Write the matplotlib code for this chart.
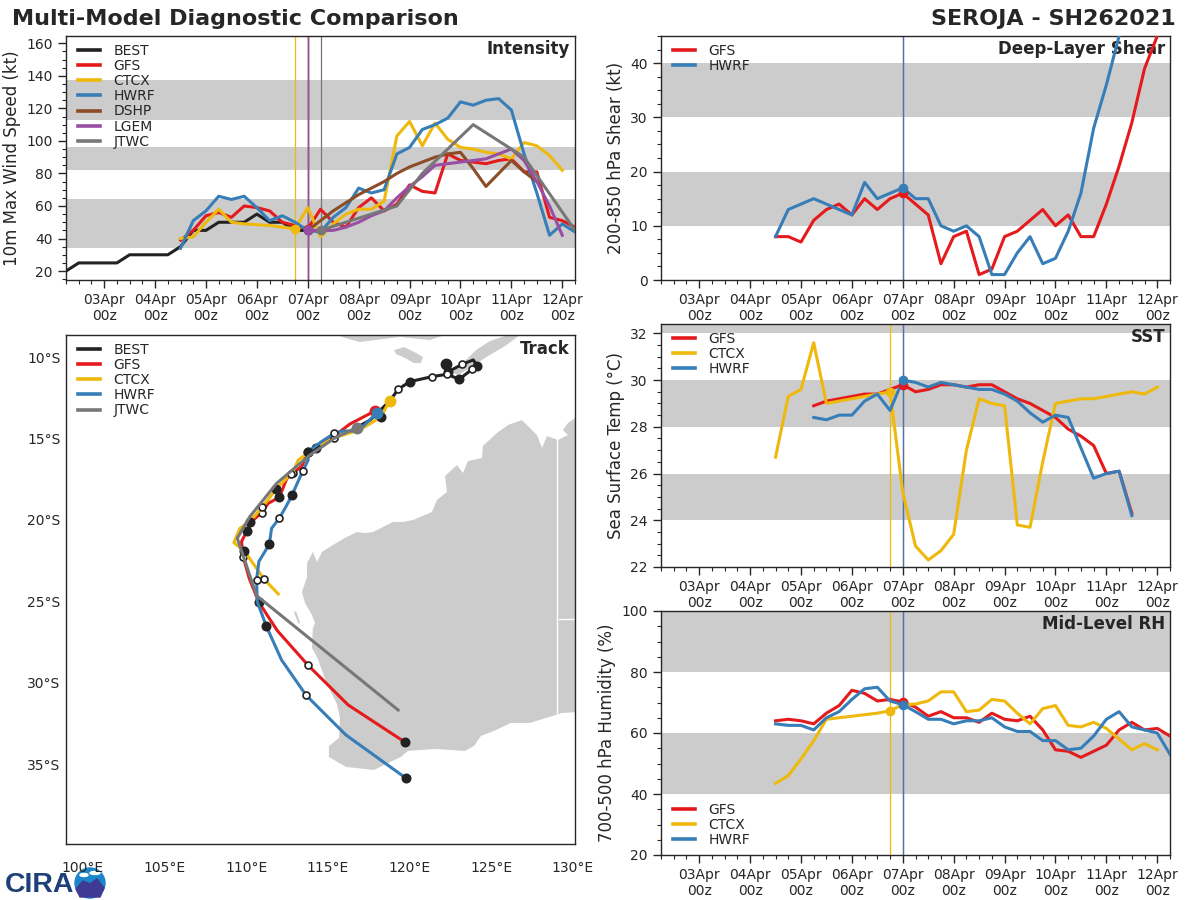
import pandas as pd
import matplotlib
matplotlib.use('Agg')
import matplotlib.pyplot as plt
import matplotlib.dates as mdates
from matplotlib.patches import Circle, Ellipse, Polygon
from matplotlib.ticker import MultipleLocator

# model colors
COLORS = {'BEST': '#222222', 'GFS': '#e41a1c', 'CTCX': '#eeb90c', 'HWRF': '#377eb8',
          'DSHP': '#8c4c26', 'LGEM': '#984ea3', 'JTWC': '#777777'}
BAND_GRAY = '#cccccc'
TEXT_COLOR = '#262626'

# intensity (kt), 6-hourly
best_start = '2021-04-02 06:00'
best_vmax = [20, 25, 25, 25, 25, 30, 30, 30, 30, 35, 45, 45, 50, 50, 50, 55, 50, 50, 45, 45]
gfs_vmax = [39, 45, 54, 56, 53, 60, 59, 57, 50, 48, 46, 58, 50, 47, 59, 65, 57, 61, 73, 69,
            68, 92, 88, 87, 86, 88, 89, 81, 81, 53, 51, 47]
ctcx_vmax = [40, 41, 50, 58, 50, 49, 48.5, 48, 47, 46, 59, 41, 49, 55, 58, 58, 63, 103, 112,
             97, 111, 101, 96, 95, 93, 92, 89, 99, 97, 91, 82]
hwrf_vmax = [34, 51, 57, 66, 64, 66, 59, 51, 54, 50, 45, 44, 53, 59, 71, 68, 70, 92, 96, 107,
             110, 114, 124, 122, 125, 126, 119, 92, 68, 42, 49, 44]
dshp_start = '2021-04-07 00:00'
dshp_vmax = [45, 51, 57, 62, 67, 71, 75, 80, 84, 87, 90, 92, 93, 83, 72, 80, 88, 81, 75]
lgem_vmax = [45, 45, 45, 47, 50, 54, 57, 65, 72, 78, 85, 86, 87, 88, 89, 92, 95, 88, 75, 60, 42]
jtwc_times = ['2021-04-07 06:00', '2021-04-07 18:00', '2021-04-08 06:00', '2021-04-08 18:00',
              '2021-04-09 06:00', '2021-04-10 06:00', '2021-04-11 06:00', '2021-04-12 06:00']
jtwc_vmax = [45, 50, 55, 60, 80, 110, 90, 45]

# deep-layer shear (kt)
gfs_shear = [8, 8, 7, 11, 13, 14, 12, 15, 13, 15, 16, 14, 12, 3, 8, 9, 1, 2, 8, 9, 11, 13, 10,
             12, 8, 8, 14, 21, 29, 39, 45, 52]
hwrf_shear = [8, 13, 14, 15, 14, 13, 12, 18, 15, 16, 17, 15, 15, 10, 9, 10, 8, 1, 1, 5, 8, 3,
              4, 9, 16, 28, 36, 45, 52]

# SST (C)
gfs_sst = [28.9, 29.1, 29.2, 29.3, 29.4, 29.4, 29.6, 29.8, 29.5, 29.6, 29.8, 29.8, 29.7, 29.8,
           29.8, 29.5, 29.2, 29.0, 28.7, 28.4, 27.9, 27.6, 27.2, 26.0, 26.1, 24.3]
ctcx_sst = [26.7, 29.3, 29.6, 31.6, 29.0, 29.1, 29.2, 29.3, 29.4, 29.5, 25.2, 22.9, 22.3, 22.7,
            23.4, 27.0, 29.2, 29.0, 28.9, 23.8, 23.7, 26.5, 29.0, 29.1, 29.2, 29.2, 29.3, 29.4,
            29.5, 29.4, 29.7]
hwrf_sst = [28.4, 28.3, 28.5, 28.5, 29.1, 29.4, 28.7, 30.0, 29.9, 29.7, 29.9, 29.8, 29.7, 29.6,
            29.6, 29.4, 29.1, 28.6, 28.2, 28.5, 28.4, 27.1, 25.8, 26.0, 26.1, 24.2]

# mid-level RH (%)
gfs_rh = [64, 64.5, 64, 63, 66.5, 69, 74, 73, 70.5, 71, 70.2, 68.5, 65.5, 67, 65, 65, 63.5, 66.5,
          64.5, 64, 65.5, 61, 54.5, 54, 52, 54, 56, 61, 63.5, 61, 61.5, 59]
ctcx_rh = [43.5, 46, 51.5, 57.5, 64.5, 65, 65.5, 66, 66.5, 67.3, 69.3, 69.5, 70.5, 73.5, 73.5,
           67, 67.5, 71, 70.5, 66.5, 63, 68, 69, 62.5, 62, 63.5, 61.5, 58, 54.5, 56.5, 54.5]
hwrf_rh = [63, 62.5, 62.5, 61, 65, 67, 71, 74.5, 75, 70.5, 69.3, 67, 64.5, 64.5, 63, 64, 64, 65,
           62, 60.5, 60.5, 57.5, 57.5, 54.5, 55, 59, 64.5, 67, 62, 61, 60, 53]

model_start = '2021-04-04 12:00'
sst_start = '2021-04-05 06:00'
ctcx_init = '2021-04-06 18:00'
other_init = '2021-04-07 00:00'
jtwc_init = '2021-04-07 06:00'

# tracks
best_lon = [122.26, 122.37, 123.22, 123.9, 124.14, 123.83, 123.04, 122.3, 121.4, 120.02, 119.3,
            118.8, 118.22, 117.6, 116.75]
best_lat = [-10.45, -10.9, -10.45, -10.18, -10.55, -10.75, -11.37, -11.06, -11.2, -11.51, -11.98,
            -12.68, -13.25, -13.86, -14.33]
best_filled = [0, 1, 4, 6, 9]
best_open = [2, 5, 7, 8, 10]
gfs_lon = [117.88, 116.35, 115.39, 114.51, 113.79, 113.39, 112.88, 112.47, 112.02, 111.35, 110.94,
           110.43, 110.02, 109.71, 109.81, 110.18, 110.77, 111.9, 113.79, 116.24, 119.73]
gfs_lat = [-13.31, -14.11, -14.84, -15.4, -15.8, -16.72, -17.09, -17.48, -18.61, -18.97, -19.55,
           -20.0, -20.69, -21.33, -22.25, -23.58, -25.05, -26.79, -28.92, -31.35, -33.64]
gfs_filled = [4, 8, 12, 16, 20]
gfs_open = [2, 6, 10, 14, 18]
ctcx_lon = [118.79, 118.22, 116.96, 115.39, 114.26, 113.18, 112.88, 112.73, 111.81, 110.98, 110.22,
            109.61, 109.24, 109.88, 111.1, 111.96]
ctcx_lat = [-12.68, -13.7, -14.47, -14.95, -15.56, -16.32, -17.03, -17.17, -18.12, -19.22, -20.1,
            -20.51, -21.39, -21.9, -23.64, -24.54]
ctcx_filled = [1, 4, 8, 10, 13]
ctcx_open = [3, 7, 9, 14]
hwrf_lon = [118.02, 116.86, 115.94, 115.39, 114.61, 113.79, 113.79, 113.45, 113.12, 112.81, 112.43,
            112.02, 111.55, 111.41, 110.77, 110.63, 110.67, 111.22, 112.16, 113.67, 116.1, 119.79]
hwrf_lat = [-13.41, -14.54, -14.54, -14.68, -15.19, -15.8, -16.32, -17.01, -17.75, -18.46, -19.18,
            -19.9, -20.51, -21.49, -22.55, -23.68, -25.01, -26.5, -28.59, -30.76, -33.19, -35.85]
hwrf_filled = [5, 9, 13, 17, 21]
hwrf_open = [3, 7, 11, 15, 19]
jtwc_lon = [116.75, 115.39, 113.9, 111.86, 110.22, 109.45, 110.63, 119.3]
jtwc_lat = [-14.33, -14.99, -16.01, -17.75, -19.79, -21.12, -24.64, -31.66]

# land outlines (lon, lat)
aus_lon = [130.4, 129.7, 129.39, 129.7, 129.09, 128.41, 128.11, 127.8, 126.88, 126.03, 125.35,
           124.49, 124.43, 123.58, 123.27, 122.9, 122.17, 122.29, 121.68, 121.37, 120.21, 119.6,
           118.98, 117.76, 117.27, 116.78, 116.04, 115.31, 114.64, 114.33, 114.08, 113.72, 113.72,
           113.41, 113.59, 114.02, 114.21, 114.08, 114.02, 114.33, 114.94, 115.55, 115.74, 115.68,
           115.06, 115.06, 116.11, 117.82, 118.68, 119.47, 119.9, 121.56, 123.39, 123.94, 124.37,
           125.17, 126.21, 127.37, 128.78, 129.33, 130.4]
aus_lat = [-13.56, -14.05, -14.48, -14.79, -15.09, -14.85, -15.58, -14.79, -13.87, -14.17, -14.66,
           -15.46, -16.2, -16.38, -17.12, -16.63, -17.3, -18.28, -18.77, -19.51, -20.0, -20.12,
           -20.12, -20.74, -20.8, -20.74, -21.1, -21.53, -21.96, -22.58, -21.96, -22.64, -23.5,
           -24.42, -25.09, -25.83, -26.32, -26.63, -27.85, -28.4, -30.06, -31.29, -32.15, -33.37,
           -33.87, -34.54, -35.15, -35.34, -34.91, -34.54, -34.17, -34.05, -34.17, -33.87, -33.25,
           -32.94, -32.45, -32.45, -32.02, -31.84, -31.78]
timor_lon = [122.6, 123.58, 124.07, 124.92, 125.84, 126.76, 125.84, 124.8, 123.7, 122.96]
timor_lat = [-10.92, -10.06, -9.57, -9.02, -8.71, -8.65, -9.33, -9.94, -10.67, -11.1]
sumba_lon = [119.05, 119.66, 120.39, 120.82, 120.7, 120.27, 119.6, 119.17]
sumba_lat = [-9.57, -9.39, -9.75, -10.0, -10.37, -10.37, -10.0, -9.82]
flores_lon = [115.55, 116.04, 116.96, 117.88, 119.41, 121.25, 122.17, 122.17, 115.55]
flores_lat = [-8.65, -8.83, -9.08, -8.96, -8.77, -8.96, -8.65, -8.3, -8.3]
hartog_lon = [112.92, 113.05, 113.3, 113.18]
hartog_lat = [-25.64, -25.6, -26.32, -26.36]
border_lon = [129.05, 129.05]
border_lat = [-14.9, -31.85]
border2_lon = [129.15, 130.4]
border2_lat = [-26.07, -26.07]

track_xticks = [100, 105, 110, 115, 120, 125, 130]
track_yticks = [-10, -15, -20, -25, -30, -35]


def pixel_axes(fig, x0, y0, x1, y1):
    # axes from reference pixel box, y measured from the top
    return fig.add_axes([x0 / 1200, (900 - y1) / 900, (x1 - x0) / 1200, (y1 - y0) / 900])


def six_hourly(start, values):
    return pd.date_range(start, periods=len(values), freq='6h')


def style_time_axis(ax, ylim, yticks, yminor, bands, ylabel, title):
    for low, high in bands:
        ax.axhspan(low, high, color=BAND_GRAY, lw=0, zorder=0)
    ax.set_xlim(pd.Timestamp('2021-04-02 06:00'), pd.Timestamp('2021-04-12 06:00'))
    ax.set_ylim(*ylim)
    ax.set_yticks(yticks)
    ax.yaxis.set_minor_locator(MultipleLocator(yminor))
    ax.xaxis.set_major_locator(mdates.DayLocator())
    ax.xaxis.set_major_formatter(mdates.DateFormatter('%d%b\n%Hz'))
    ax.xaxis.set_minor_locator(mdates.HourLocator(byhour=[0, 6, 12, 18]))
    ax.tick_params(which='major', length=6, width=1, color=TEXT_COLOR, labelcolor=TEXT_COLOR, labelsize=10)
    ax.tick_params(which='minor', length=3, width=0.8, color=TEXT_COLOR)
    ax.set_ylabel(ylabel, fontsize=12, color=TEXT_COLOR, labelpad=4)
    ax.text(0.99, 0.985, title, transform=ax.transAxes, ha='right', va='top', fontsize=12,
            fontweight='bold', color=TEXT_COLOR)
    for spine in ax.spines.values():
        spine.set_color(TEXT_COLOR)
        spine.set_linewidth(1)


def draw_series(ax, name, times, values, init=None):
    ax.plot(times, values, color=COLORS[name], lw=2.2, label=name, zorder=3)
    if init is not None:
        ax.axvline(pd.Timestamp(init), color=COLORS[name], lw=0.9, zorder=2)
        value = pd.Series(values, index=times)[pd.Timestamp(init)]
        ax.plot([pd.Timestamp(init)], [value], 'o', color=COLORS[name], ms=6, zorder=4)


def add_legend(ax, upper=True):
    # offsets are in pixels from the axes corner
    height = ax.get_position().height * 900
    width = ax.get_position().width * 1200
    if upper:
        loc, anchor = 'upper left', (11.5 / width, 1 - 8 / height)
    else:
        loc, anchor = 'lower left', (11.5 / width, 8 / height)
    leg = ax.legend(loc=loc, bbox_to_anchor=anchor, frameon=False, fontsize=10, labelspacing=0.08,
                    handlelength=1.65, handletextpad=0.95, borderaxespad=0, borderpad=0)
    for handle in leg.get_lines():
        handle.set_linewidth(2.6)
    for text in leg.get_texts():
        text.set_color(TEXT_COLOR)


def draw_track(ax, name, lons, lats, filled=(), opened=()):
    ax.plot(lons, lats, color=COLORS[name], lw=2.2, label=name, zorder=3, solid_joinstyle='round')
    if filled:
        ax.plot([lons[i] for i in filled], [lats[i] for i in filled], 'o', color=COLORS['BEST'],
                ms=6.2, zorder=3)
    if opened:
        ax.plot([lons[i] for i in opened], [lats[i] for i in opened], 'o', mfc='white',
                mec=COLORS['BEST'], mew=1.2, ms=5, zorder=3)
    ax.plot(lons[0], lats[0], 'o', color=COLORS[name], ms=7.5, zorder=3)


def draw_logo(fig):
    logo = fig.add_axes([0, 0, 120 / 1200, 40 / 900], zorder=-1)
    logo.set_xlim(0, 120)
    logo.set_ylim(40, 0)
    logo.axis('off')
    logo.text(5, 32, 'CIRA', fontsize=20.5, fontweight='bold', family='Liberation Sans',
              color='#1d4079', ha='left', va='baseline')
    logo.add_patch(Circle((90, 23), 15, color='#1b86c9'))
    logo.add_patch(Polygon([(76, 29), (83, 21), (90, 24), (97, 19), (104, 28), (100, 37), (80, 37)],
                           color='#3f3a94'))
    logo.add_patch(Ellipse((84, 15), 8, 3, color='white'))
    logo.add_patch(Ellipse((95, 13), 10, 3, color='white'))


fig = plt.figure(figsize=(12, 9), dpi=100)

# intensity panel
ax_int = pixel_axes(fig, 66, 36, 575, 280)
style_time_axis(ax_int, (14.5, 164.5), range(20, 161, 20), 5, [(34, 64.5), (82, 96), (113, 137.5)],
                '10m Max Wind Speed (kt)', 'Intensity')
draw_series(ax_int, 'BEST', six_hourly(best_start, best_vmax), best_vmax)
draw_series(ax_int, 'GFS', six_hourly(model_start, gfs_vmax), gfs_vmax, other_init)
draw_series(ax_int, 'CTCX', six_hourly(model_start, ctcx_vmax), ctcx_vmax, ctcx_init)
draw_series(ax_int, 'HWRF', six_hourly(model_start, hwrf_vmax), hwrf_vmax, other_init)
draw_series(ax_int, 'DSHP', six_hourly(dshp_start, dshp_vmax), dshp_vmax, other_init)
draw_series(ax_int, 'LGEM', six_hourly(dshp_start, lgem_vmax), lgem_vmax, other_init)
draw_series(ax_int, 'JTWC', pd.to_datetime(jtwc_times), jtwc_vmax, jtwc_init)
add_legend(ax_int)

# shear panel
ax_shear = pixel_axes(fig, 661, 36, 1170, 280)
style_time_axis(ax_shear, (0, 45), range(0, 41, 10), 2.5, [(10, 20), (30, 40)],
                '200-850 hPa Shear (kt)', 'Deep-Layer Shear')
draw_series(ax_shear, 'GFS', six_hourly(model_start, gfs_shear), gfs_shear, other_init)
draw_series(ax_shear, 'HWRF', six_hourly(model_start, hwrf_shear), hwrf_shear, other_init)
add_legend(ax_shear)

# SST panel
ax_sst = pixel_axes(fig, 661, 324, 1170, 567)
style_time_axis(ax_sst, (22, 32.4), range(22, 33, 2), 0.5, [(24, 26), (28, 30), (32, 33)],
                'Sea Surface Temp (°C)', 'SST')
draw_series(ax_sst, 'GFS', six_hourly(sst_start, gfs_sst), gfs_sst, other_init)
draw_series(ax_sst, 'CTCX', six_hourly(model_start, ctcx_sst), ctcx_sst, ctcx_init)
draw_series(ax_sst, 'HWRF', six_hourly(sst_start, hwrf_sst), hwrf_sst, other_init)
add_legend(ax_sst)

# RH panel
ax_rh = pixel_axes(fig, 661, 611, 1170, 855)
style_time_axis(ax_rh, (20, 100), range(20, 101, 20), 5, [(40, 60), (80, 100)],
                '700-500 hPa Humidity (%)', 'Mid-Level RH')
draw_series(ax_rh, 'GFS', six_hourly(model_start, gfs_rh), gfs_rh, other_init)
draw_series(ax_rh, 'CTCX', six_hourly(model_start, ctcx_rh), ctcx_rh, ctcx_init)
draw_series(ax_rh, 'HWRF', six_hourly(model_start, hwrf_rh), hwrf_rh, other_init)
add_legend(ax_rh, upper=False)

# track map
ax_map = pixel_axes(fig, 66, 335, 575, 844)
for lons, lats in [(aus_lon, aus_lat), (timor_lon, timor_lat), (sumba_lon, sumba_lat),
                   (flores_lon, flores_lat), (hartog_lon, hartog_lat)]:
    ax_map.add_patch(Polygon(list(zip(lons, lats)), closed=True, color=BAND_GRAY, lw=0, zorder=1))
ax_map.plot(border_lon, border_lat, color='white', lw=1, zorder=2)
ax_map.plot(border2_lon, border2_lat, color='white', lw=1, zorder=2)
draw_track(ax_map, 'BEST', best_lon, best_lat, best_filled, best_open)
draw_track(ax_map, 'GFS', gfs_lon, gfs_lat, gfs_filled, gfs_open)
draw_track(ax_map, 'CTCX', ctcx_lon, ctcx_lat, ctcx_filled, ctcx_open)
draw_track(ax_map, 'HWRF', hwrf_lon, hwrf_lat, hwrf_filled, hwrf_open)
draw_track(ax_map, 'JTWC', jtwc_lon, jtwc_lat)
ax_map.set_xlim(98.96, 130.13)
ax_map.set_ylim(-39.88, -8.65)
ax_map.set_xticks(track_xticks)
ax_map.set_xticklabels([f'{v}°E' for v in track_xticks])
ax_map.set_yticks(track_yticks)
ax_map.set_yticklabels([f'{-v}°S' for v in track_yticks])
ax_map.tick_params(axis='x', length=0, pad=12, labelsize=10, labelcolor=TEXT_COLOR)
ax_map.tick_params(axis='y', length=0, pad=4, labelsize=10, labelcolor=TEXT_COLOR)
ax_map.text(0.99, 0.99, 'Track', transform=ax_map.transAxes, ha='right', va='top', fontsize=12,
            fontweight='bold', color=TEXT_COLOR)
for spine in ax_map.spines.values():
    spine.set_color(TEXT_COLOR)
    spine.set_linewidth(1)
add_legend(ax_map)

fig.text(12 / 1200, 1 - 25 / 900, 'Multi-Model Diagnostic Comparison', fontsize=16, fontweight='bold',
         color=TEXT_COLOR, ha='left', va='baseline')
fig.text(1176 / 1200, 1 - 25 / 900, 'SEROJA - SH262021', fontsize=16, fontweight='bold',
         color=TEXT_COLOR, ha='right', va='baseline')
draw_logo(fig)

plt.savefig('out.png', dpi=100)
